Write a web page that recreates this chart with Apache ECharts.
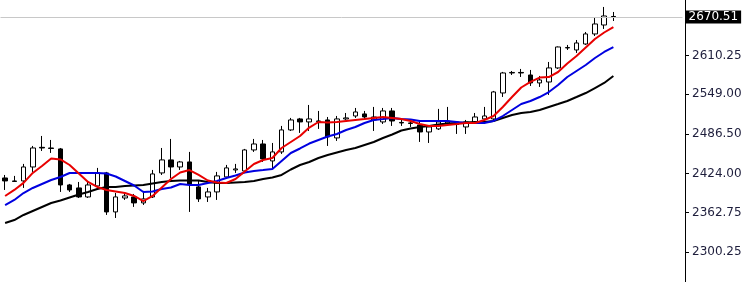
<!DOCTYPE html>
<html>
<head>
<meta charset="utf-8">
<script src="https://cdn.jsdelivr.net/npm/echarts@6/dist/echarts.min.js"></script>
<style>
html,body{margin:0;padding:0;background:#fff;}
#chart{width:748px;height:282px;}
</style>
</head>
<body>
<div id="chart"></div>
<script>
// candles: [open, close, low, high]
const candles = [
  [2417.3,2412.6,2398.4,2422.0],[2412.6,2411.8,2411.0,2420.5],[2412.6,2434.6,2401.6,2439.4],[2434.6,2464.5,2426.8,2467.7],
  [2465.5,2464.5,2459.8,2483.4],[2464.5,2463.7,2456.7,2477.1],[2463.0,2406.3,2395.3,2464.5],[2406.3,2398.4,2395.3,2407.9],
  [2401.6,2387.4,2385.8,2411.0],[2387.4,2406.3,2385.8,2412.6],[2404.7,2425.2,2403.2,2433.1],[2425.2,2363.8,2359.1,2426.8],
  [2363.8,2387.4,2354.3,2393.7],[2385.8,2389.0,2382.7,2393.7],[2387.4,2378.0,2371.7,2392.1],[2378.0,2384.3,2374.8,2396.9],
  [2387.4,2423.6,2385.8,2429.9],[2425.2,2445.7,2422.0,2464.5],[2445.7,2434.6,2417.3,2478.7],[2434.6,2442.5,2429.9,2444.1],
  [2442.5,2407.9,2363.8,2458.3],[2403.2,2384.3,2379.5,2412.6],[2387.4,2395.3,2379.5,2401.6],[2395.3,2420.5,2382.7,2426.8],
  [2418.9,2433.1,2415.8,2437.8],[2429.9,2431.5,2425.2,2439.4],[2428.3,2461.4,2425.2,2463.0],[2461.4,2470.8,2458.3,2478.7],
  [2470.8,2447.2,2442.5,2477.1],[2444.1,2458.3,2431.5,2472.4],[2458.3,2492.9,2455.1,2499.2],[2492.9,2508.6,2491.3,2511.8],
  [2510.2,2505.5,2488.2,2511.8],[2505.5,2510.2,2491.3,2532.2],[2507.0,2506.3,2494.5,2522.8],[2508.6,2481.9,2467.7,2513.3],
  [2480.3,2510.2,2475.6,2514.9],[2510.2,2511.8,2508.6,2519.6],[2514.9,2521.2,2511.8,2527.5],[2518.1,2513.3,2510.2,2522.8],
  [2508.6,2513.3,2491.3,2529.1],[2505.5,2522.8,2502.3,2527.5],[2522.8,2507.0,2499.2,2527.5],[2504.7,2503.9,2499.2,2508.6],
  [2503.9,2503.1,2497.6,2508.6],[2500.7,2489.7,2474.0,2505.5],[2489.7,2497.6,2472.4,2500.7],[2494.5,2505.5,2492.9,2526.0],
  [2503.9,2507.0,2500.7,2529.1],[2505.5,2501.5,2486.6,2507.0],[2497.6,2505.5,2486.6,2508.6],[2503.9,2513.3,2503.1,2519.6],
  [2510.2,2514.9,2508.6,2529.1],[2510.2,2552.7,2508.6,2554.3],[2551.1,2582.6,2544.8,2584.2],[2582.6,2583.4,2579.4,2585.7],
  [2583.4,2582.6,2576.3,2588.9],[2579.4,2566.9,2562.1,2587.3],[2566.9,2571.6,2560.6,2577.9],[2568.4,2590.5,2548.0,2599.9],
  [2590.5,2623.5,2588.9,2624.3],[2621.9,2622.7,2618.8,2626.7],[2618.8,2629.8,2614.1,2634.5],[2628.2,2644.0,2626.7,2647.1],
  [2644.0,2659.7,2640.8,2669.2],[2658.1,2672.3,2651.9,2686.5],[2671.5,2670.51,2664.4,2678.6]
];
const maRed = [
  2388.9,2398.4,2409.5,2425.2,2436.1,2447.9,2446.4,2437.7,2424.3,2411.0,2403.1,2398.4,2396.0,2393.6,2388.9,2381.0,
  2388.9,2402.3,2415.6,2425.9,2429.8,2422.0,2413.3,2410.1,2409.4,2415.6,2427.5,2439.3,2445.6,2448.7,2464.5,2473.9,
  2483.3,2496.7,2505.4,2504.6,2505.4,2507.0,2508.6,2510.1,2511.7,2513.3,2511.7,2510.1,2507.0,2502.2,2499.1,2499.1,
  2500.7,2502.2,2503.8,2503.8,2508.6,2514.8,2529.0,2544.7,2559.7,2568.4,2575.4,2576.2,2584.1,2597.5,2609.3,2622.7,
  2636.1,2646.3,2654.9
];
const maBlue = [
  2374.7,2382.6,2393.6,2401.5,2407.8,2414.1,2418.8,2425.1,2425.1,2425.1,2425.1,2424.3,2419.6,2412.5,2405.4,2395.2,
  2396.0,2399.9,2402.3,2407.8,2406.2,2406.2,2409.4,2412.5,2417.2,2421.2,2425.9,2428.3,2429.8,2431.4,2444.0,2456.6,
  2463.7,2471.5,2477.0,2482.5,2486.5,2492.8,2497.5,2503.8,2508.6,2510.1,2511.7,2510.1,2509.3,2507.0,2507.0,2507.0,
  2507.0,2505.4,2503.8,2503.8,2503.8,2507.0,2514.8,2524.3,2533.7,2538.4,2544.7,2552.6,2563.6,2576.2,2585.7,2595.1,
  2606.1,2615.6,2623.4
];
const maBlack = [
  2346.4,2351.1,2359.0,2365.3,2371.6,2377.9,2381.8,2386.5,2391.2,2395.2,2399.9,2403.1,2403.1,2404.6,2405.4,2406.2,
  2408.6,2410.9,2412.5,2413.3,2413.3,2413.3,2410.9,2409.4,2409.4,2410.2,2410.9,2412.5,2415.6,2418.0,2422.0,2430.6,
  2437.7,2442.4,2448.7,2453.4,2457.4,2461.3,2464.5,2469.2,2473.9,2480.2,2485.7,2492.0,2495.2,2497.5,2499.1,2501.5,
  2503.0,2503.8,2504.6,2505.4,2505.4,2507.0,2511.7,2516.4,2519.6,2521.1,2524.3,2529.0,2533.7,2538.5,2544.7,2551.0,
  2558.9,2566.8,2577.8
];
const yTicks = [2300.25, 2362.75, 2424.00, 2486.50, 2549.00, 2610.25];
const lastPrice = 2670.51;
const totalSlots = 74;
const categories = Array.from({length: totalSlots}, (_, i) => 'Bar ' + (i + 1));

const chart = echarts.init(document.getElementById('chart'), null, {renderer: 'canvas'});
chart.setOption({
  animation: false,
  backgroundColor: '#ffffff',
  grid: {left: 0.5, width: 682, top: 0, bottom: 0, containLabel: false},
  xAxis: {
    type: 'category', data: categories, boundaryGap: true,
    axisLine: {show: false}, axisTick: {show: false}, axisLabel: {show: false}, splitLine: {show: false}
  },
  yAxis: {
    type: 'value', position: 'right', offset: 2.5,
    min: 2253.5, max: 2697.45, scale: true,
    axisLine: {show: true, lineStyle: {color: '#000', width: 1}},
    axisTick: {show: true, length: 4, lineStyle: {color: '#000'}, customValues: yTicks},
    axisLabel: {
      show: true, customValues: yTicks, margin: 7,
      color: '#1e1e3c', fontFamily: 'DejaVu Sans', fontSize: 12,
      formatter: v => v.toFixed(2)
    },
    splitLine: {show: false}
  },
  series: [
    {
      type: 'candlestick', data: candles, barWidth: 5,
      itemStyle: {color: '#ffffff', color0: '#000000', borderColor: '#000000', borderColor0: '#000000', borderWidth: 1},
      markLine: {
        silent: true, symbol: 'none',
        lineStyle: {color: '#c8c8c8', width: 1, type: 'solid'},
        label: {
          show: true, position: 'end', distance: 3,
          formatter: () => lastPrice.toFixed(2),
          color: '#ffffff', backgroundColor: '#000000',
          fontFamily: 'DejaVu Sans', fontSize: 12, padding: [1, 3, 0, 3]
        },
        data: [{yAxis: lastPrice}]
      }
    },
    {type: 'line', data: maBlack, symbol: 'none', lineStyle: {color: '#000000', width: 2}, itemStyle: {color: '#000'}},
    {type: 'line', data: maBlue, symbol: 'none', lineStyle: {color: '#0000e0', width: 2}, itemStyle: {color: '#0000e0'}},
    {type: 'line', data: maRed, symbol: 'none', lineStyle: {color: '#e80000', width: 2}, itemStyle: {color: '#e80000'}}
  ]
});
</script>
</body>
</html>
